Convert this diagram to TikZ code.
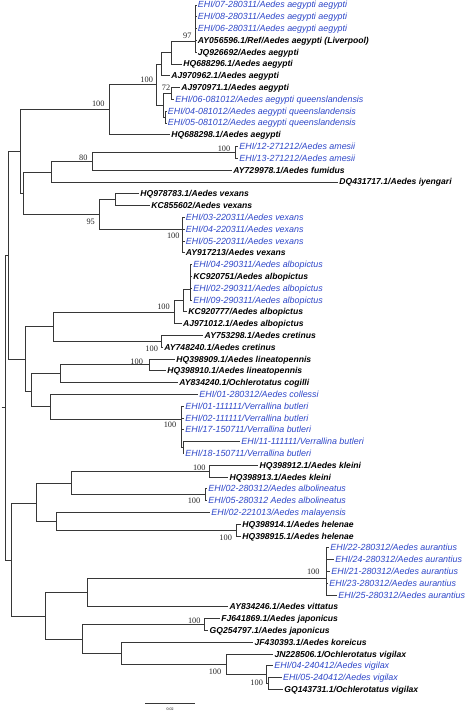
\documentclass[tikz,border=0pt]{standalone}
\usepackage{fontspec}
\setmainfont{Liberation Serif}
\newfontfamily\arialf{Liberation Sans}
\definecolor{ehi}{RGB}{45,70,200}
\definecolor{brc}{RGB}{55,55,55}
\tikzset{
 br/.style={draw=brc, line width=0.9pt},
 lb/.style={anchor=base west, inner sep=0pt, font=\arialf\fontsize{8.6}{9}\selectfont\bfseries\itshape, text=black},
 lc/.style={anchor=base west, inner sep=0pt, font=\arialf\fontsize{8.9}{9}\selectfont\itshape, text=ehi},
 bs/.style={inner sep=0pt, font=\fontsize{8.3}{9}\selectfont, text=black!85},
}
\newcommand\lf[5]{\coordinate (#1) at (#2,#3); \node[#4] (t#1) at ([xshift=1.2pt,yshift=-3pt]#1) {#5};}
\begin{document}
\begin{tikzpicture}[x=1pt,y=-1pt]
\useasboundingbox (0,0) rectangle (472,711);
% leaves
\lf{l1}{196.5}{5.0}{lc}{EHI/07-280311/Aedes aegypti aegypti}
\lf{l2}{196.5}{16.8}{lc}{EHI/08-280311/Aedes aegypti aegypti}
\lf{l3}{196.5}{28.6}{lc}{EHI/06-280311/Aedes aegypti aegypti}
\lf{l4}{196.5}{40.4}{lb}{AY056596.1/Ref/Aedes aegypti (Liverpool)}
\lf{l5}{196.5}{52.2}{lb}{JQ926692/Aedes aegypti}
\lf{l6}{182}{64.0}{lb}{HQ688296.1/Aedes aegypti}
\lf{l7}{170}{75.8}{lb}{AJ970962.1/Aedes aegypti}
\lf{l8}{180}{87.6}{lb}{AJ970971.1/Aedes aegypti}
\lf{l9}{174}{99.4}{lc}{EHI/06-081012/Aedes aegypti queenslandensis}
\lf{l10}{166.5}{111.2}{lc}{EHI/04-081012/Aedes aegypti queenslandensis}
\lf{l11}{166.5}{123.0}{lc}{EHI/05-081012/Aedes aegypti queenslandensis}
\lf{l12}{170}{134.8}{lb}{HQ688298.1/Aedes aegypti}
\lf{l13}{238}{146.6}{lc}{EHI/12-271212/Aedes amesii}
\lf{l14}{238}{158.4}{lc}{EHI/13-271212/Aedes amesii}
\lf{l15}{232}{170.2}{lb}{AY729978.1/Aedes fumidus}
\lf{l16}{338}{182.0}{lb}{DQ431717.1/Aedes iyengari}
\lf{l17}{139}{193.8}{lb}{HQ978783.1/Aedes vexans}
\lf{l18}{150}{205.6}{lb}{KC855602/Aedes vexans}
\lf{l19}{184.5}{217.4}{lc}{EHI/03-220311/Aedes vexans}
\lf{l20}{184.5}{229.2}{lc}{EHI/04-220311/Aedes vexans}
\lf{l21}{184.5}{241.0}{lc}{EHI/05-220311/Aedes vexans}
\lf{l22}{184.5}{252.8}{lb}{AY917213/Aedes vexans}
\lf{l23}{192}{264.6}{lc}{EHI/04-290311/Aedes albopictus}
\lf{l24}{192}{276.4}{lb}{KC920751/Aedes albopictus}
\lf{l25}{192}{288.2}{lc}{EHI/02-290311/Aedes albopictus}
\lf{l26}{192}{300.0}{lc}{EHI/09-290311/Aedes albopictus}
\lf{l27}{187}{311.8}{lb}{KC920777/Aedes albopictus}
\lf{l28}{181.7}{323.6}{lb}{AJ971012.1/Aedes albopictus}
\lf{l29}{203.3}{335.4}{lb}{AY753298.1/Aedes cretinus}
\lf{l30}{163}{347.2}{lb}{AY748240.1/Aedes cretinus}
\lf{l31}{175}{359.0}{lb}{HQ398909.1/Aedes lineatopennis}
\lf{l32}{166}{370.8}{lb}{HQ398910.1/Aedes lineatopennis}
\lf{l33}{178}{382.6}{lb}{AY834240.1/Ochlerotatus cogilli}
\lf{l34}{198}{394.4}{lc}{EHI/01-280312/Aedes collessi}
\lf{l35}{184}{406.2}{lc}{EHI/01-111111/Verrallina butleri}
\lf{l36}{184}{418.0}{lc}{EHI/02-111111/Verrallina butleri}
\lf{l37}{184}{429.8}{lc}{EHI/17-150711/Verrallina butleri}
\lf{l38}{240}{441.6}{lc}{EHI/11-111111/Verrallina butleri}
\lf{l39}{184}{453.4}{lc}{EHI/18-150711/Verrallina butleri}
\lf{l40}{258.3}{465.2}{lb}{HQ398912.1/Aedes kleini}
\lf{l41}{228.3}{477.0}{lb}{HQ398913.1/Aedes kleini}
\lf{l42}{207}{488.8}{lc}{EHI/02-280312/Aedes albolineatus}
\lf{l43}{207}{500.6}{lc}{EHI/05-280312 Aedes albolineatus}
\lf{l44}{210}{512.4}{lc}{EHI/02-221013/Aedes malayensis}
\lf{l45}{241}{524.2}{lb}{HQ398914.1/Aedes helenae}
\lf{l46}{241}{536.0}{lb}{HQ398915.1/Aedes helenae}
\lf{l47}{329}{547.8}{lc}{EHI/22-280312/Aedes aurantius}
\lf{l48}{334}{559.6}{lc}{EHI/24-280312/Aedes aurantius}
\lf{l49}{330}{571.4}{lc}{EHI/21-280312/Aedes aurantius}
\lf{l50}{328}{583.2}{lc}{EHI/23-280312/Aedes aurantius}
\lf{l51}{337}{595.0}{lc}{EHI/25-280312/Aedes aurantius}
\lf{l52}{228.3}{606.8}{lb}{AY834246.1/Aedes vittatus}
\lf{l53}{220}{618.6}{lb}{FJ641869.1/Aedes japonicus}
\lf{l54}{208.3}{630.4}{lb}{GQ254797.1/Aedes japonicus}
\lf{l55}{253.3}{642.2}{lb}{JF430393.1/Aedes koreicus}
\lf{l56}{273.3}{654.0}{lb}{JN228506.1/Ochlerotatus vigilax}
\lf{l57}{273}{665.8}{lc}{EHI/04-240412/Aedes vigilax}
\lf{l58}{281.7}{677.6}{lc}{EHI/05-240412/Aedes vigilax}
\lf{l59}{283}{689.4}{lb}{GQ143731.1/Ochlerotatus vigilax}
% internal nodes
\coordinate (Rs) at (1.5,407.5);
\coordinate (R) at (5,407.5);
\coordinate (B) at (8.3,255.5);
\coordinate (C) at (20,151.7);
\coordinate (E) at (109,109.3);
\coordinate (E1) at (156.7,84.3);
\coordinate (N161) at (161,64.2);
\coordinate (N171) at (171.7,52.6);
\coordinate (K97) at (195,41);
\coordinate (Q) at (163.3,105.3);
\coordinate (N72) at (171.7,93.5);
\coordinate (Q2) at (165,117.1);
\coordinate (F) at (23.3,193.3);
\coordinate (G) at (51.7,172.2);
\coordinate (N80) at (92.3,161.3);
\coordinate (Am) at (235.7,152.5);
\coordinate (H) at (99,214.5);
\coordinate (V1) at (115,199.7);
\coordinate (V100) at (182.7,229.2);
\coordinate (D) at (25,359.2);
\coordinate (D1) at (53.3,326.8);
\coordinate (Alb) at (174,312.2);
\coordinate (Alb2) at (183.3,300.7);
\coordinate (Alb3) at (190,289.7);
\coordinate (Cret) at (161.7,341.3);
\coordinate (D2) at (31.7,391.7);
\coordinate (D2a) at (60.7,373.8);
\coordinate (Lin) at (149,364.9);
\coordinate (D2b) at (50,406.7);
\coordinate (Verr) at (181.7,419);
\coordinate (Verr2) at (183,447.5);
\coordinate (L) at (11,560);
\coordinate (L1) at (36.7,503.3);
\coordinate (L1a) at (71.7,483.3);
\coordinate (Kl) at (209.3,471.1);
\coordinate (Albl) at (205,494.7);
\coordinate (L1b) at (56.7,521.3);
\coordinate (Hel) at (236.7,530.1);
\coordinate (L2) at (45.7,616.2);
\coordinate (L2a) at (87.3,592.3);
\coordinate (Aur) at (326,578.3);
\coordinate (L2b) at (82.3,639);
\coordinate (Jap) at (204,624.5);
\coordinate (L2c) at (121.7,653.3);
\coordinate (Vig) at (226,664.3);
\coordinate (Vig2) at (266.7,674.7);
\coordinate (Vig3) at (268.7,683.5);
% branches
\draw[br] (Rs) -- (R);
\draw[br] (R) |- (B); \draw[br] (R) |- (L);
\draw[br] (B) |- (C); \draw[br] (B) |- (D);
\draw[br] (C) |- (E); \draw[br] (C) |- (F);
\draw[br] (E) |- (E1); \draw[br] (E) |- (l12);
\draw[br] (E1) |- (N161); \draw[br] (E1) |- (Q);
\draw[br] (N161) |- (N171); \draw[br] (N161) |- (l7);
\draw[br] (N171) |- (K97); \draw[br] (N171) |- (l6);
\foreach \c in {l1,l2,l3,l4,l5} \draw[br] (K97) |- (\c);
\draw[br] (Q) |- (N72); \draw[br] (Q) |- (Q2);
\draw[br] (N72) |- (l8); \draw[br] (N72) |- (l9);
\draw[br] (Q2) |- (l10); \draw[br] (Q2) |- (l11);
\draw[br] (F) |- (G); \draw[br] (F) |- (H);
\draw[br] (G) |- (N80); \draw[br] (G) |- (l16);
\draw[br] (N80) |- (Am); \draw[br] (N80) |- (l15);
\draw[br] (Am) |- (l13); \draw[br] (Am) |- (l14);
\draw[br] (H) |- (V1); \draw[br] (H) |- (V100);
\draw[br] (V1) |- (l17); \draw[br] (V1) |- (l18);
\foreach \c in {l19,l20,l21,l22} \draw[br] (V100) |- (\c);
\draw[br] (D) |- (D1); \draw[br] (D) |- (D2);
\draw[br] (D1) |- (Alb); \draw[br] (D1) |- (Cret);
\draw[br] (Alb) |- (Alb2); \draw[br] (Alb) |- (l28);
\draw[br] (Alb2) |- (Alb3); \draw[br] (Alb2) |- (l27);
\foreach \c in {l23,l24,l25,l26} \draw[br] (Alb3) |- (\c);
\draw[br] (Cret) |- (l29); \draw[br] (Cret) |- (l30);
\draw[br] (D2) |- (D2a); \draw[br] (D2) |- (D2b);
\draw[br] (D2a) |- (Lin); \draw[br] (D2a) |- (l33);
\draw[br] (Lin) |- (l31); \draw[br] (Lin) |- (l32);
\draw[br] (D2b) |- (l34); \draw[br] (D2b) |- (Verr);
\foreach \c in {l35,l36,l37} \draw[br] (Verr) |- (\c);
\draw[br] (Verr) |- (Verr2);
\draw[br] (Verr2) |- (l38); \draw[br] (Verr2) |- (l39);
\draw[br] (L) |- (L1); \draw[br] (L) |- (L2);
\draw[br] (L1) |- (L1a); \draw[br] (L1) |- (L1b);
\draw[br] (L1a) |- (Kl); \draw[br] (L1a) |- (Albl);
\draw[br] (Kl) |- (l40); \draw[br] (Kl) |- (l41);
\draw[br] (Albl) |- (l42); \draw[br] (Albl) |- (l43);
\draw[br] (L1b) |- (l44); \draw[br] (L1b) |- (Hel);
\draw[br] (Hel) |- (l45); \draw[br] (Hel) |- (l46);
\draw[br] (L2) |- (L2a); \draw[br] (L2) |- (L2b);
\draw[br] (L2a) |- (Aur); \draw[br] (L2a) |- (l52);
\foreach \c in {l47,l48,l49,l50,l51} \draw[br] (Aur) |- (\c);
\draw[br] (L2b) |- (Jap); \draw[br] (L2b) |- (L2c);
\draw[br] (Jap) |- (l53); \draw[br] (Jap) |- (l54);
\draw[br] (L2c) |- (l55); \draw[br] (L2c) |- (Vig);
\draw[br] (Vig) |- (l56); \draw[br] (Vig) |- (Vig2);
\draw[br] (Vig2) |- (l57); \draw[br] (Vig2) |- (Vig3);
\draw[br] (Vig3) |- (l58); \draw[br] (Vig3) |- (l59);
% bootstrap values
\node[bs] (b97) at (187.3,36) {97};
\node[bs] (bE1) at (146.7,80) {100};
\node[bs] (bE) at (98.3,104) {100};
\node[bs] (b72) at (166,87.5) {72};
\node[bs] (b80) at (83.3,157.7) {80};
\node[bs] (bAm) at (224,148.3) {100};
\node[bs] (b95) at (90.7,221.7) {95};
\node[bs] (bV) at (173.3,235.7) {100};
\node[bs] (bAlb) at (163.5,307) {100};
\node[bs] (bCr) at (151.7,348.3) {100};
\node[bs] (bLin) at (136.7,362) {100};
\node[bs] (bVerr) at (170,424.3) {100};
\node[bs] (bKl) at (199.3,467.3) {100};
\node[bs] (bAlbl) at (194,501) {100};
\node[bs] (bHel) at (225.7,537.7) {100};
\node[bs] (bAur) at (313.3,571.7) {100};
\node[bs] (bJap) at (194.3,620.7) {100};
\node[bs] (bVig) at (215,671.7) {100};
\node[bs] (bVig2) at (256.7,682.7) {100};
% scale bar
\coordinate (s1) at (145,703);
\coordinate (s2) at (195,703);
\draw[br] (s1) -- (s2);
\node[inner sep=0pt, font=\fontsize{4}{4}\selectfont] (sl) at (170,709.5) {0.02};
\end{tikzpicture}
\end{document}
